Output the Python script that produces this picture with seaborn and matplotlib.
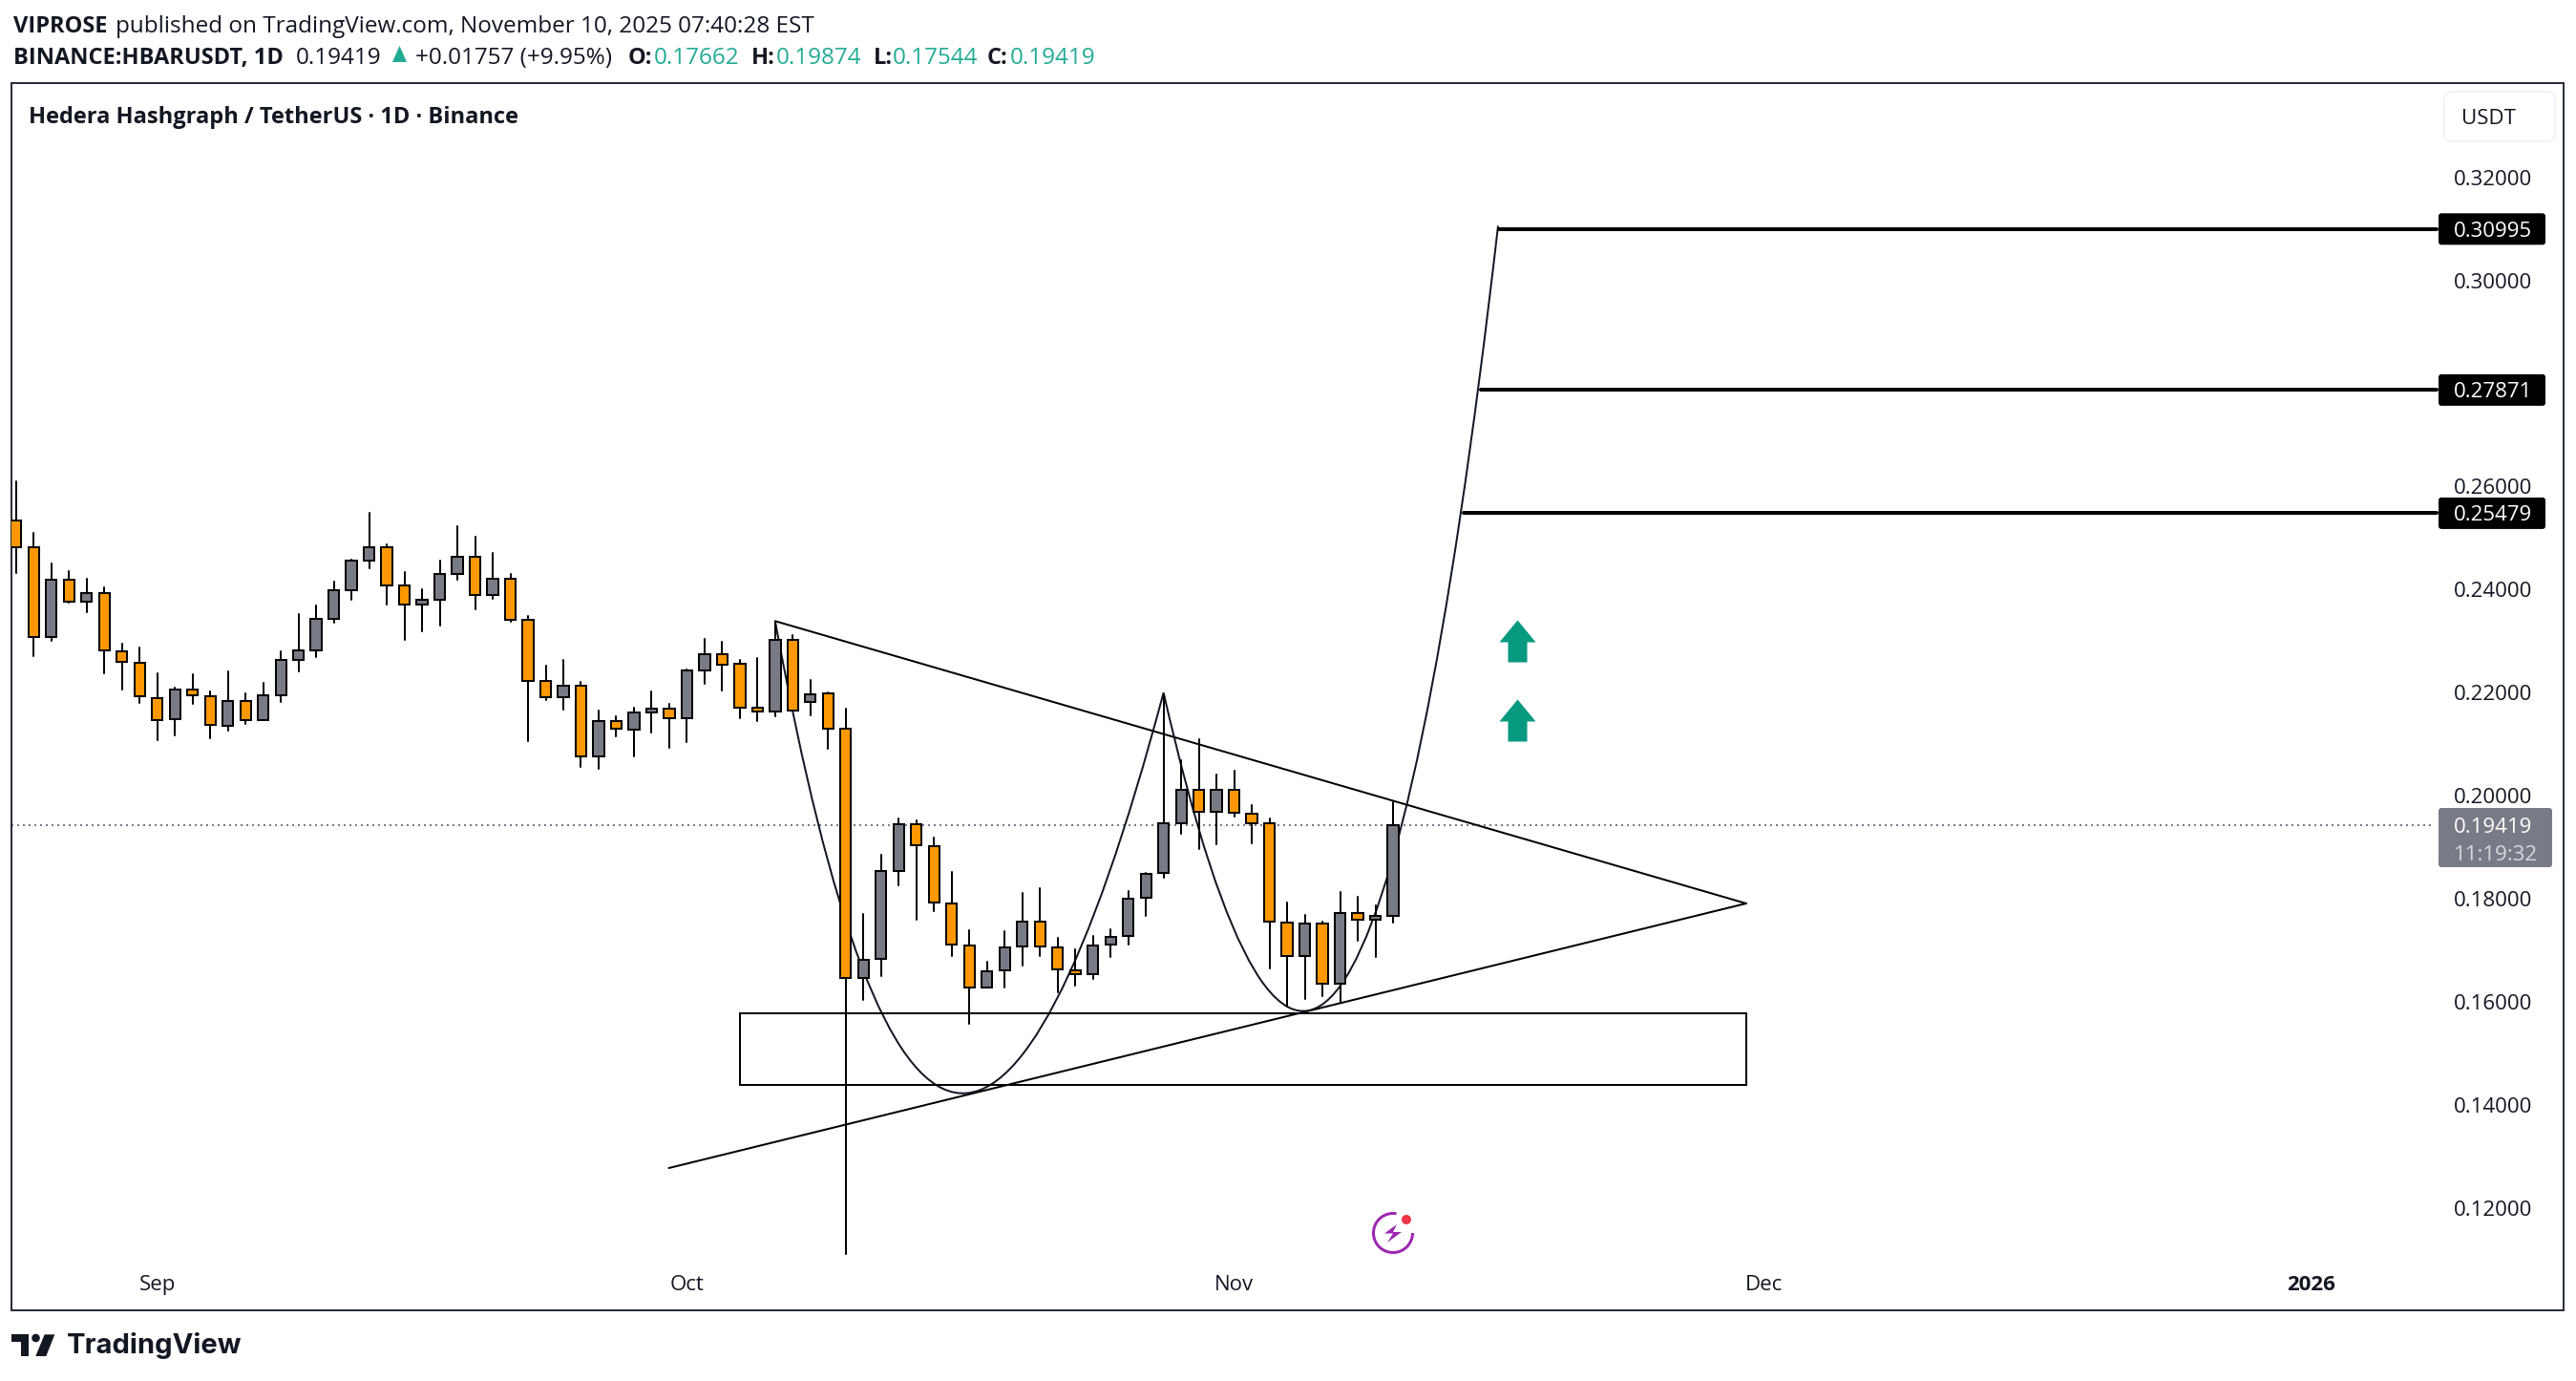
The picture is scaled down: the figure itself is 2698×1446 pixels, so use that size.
import numpy as np
import pandas as pd
import matplotlib.pyplot as plt
from matplotlib.patches import PathPatch, Rectangle, Polygon, Circle, Arc, FancyBboxPatch
from matplotlib.path import Path
import seaborn as sns

# daily candles, 2025-08-24 to 2025-11-10
first_day = '2025-08-24'
opens = [.25339, .24820, .23084, .24190, .23769, .23930, .22799, .22577, .21891, .21490,
         .22058, .21928, .21360, .21836, .21471, .21953, .22639, .22824, .23436, .23992,
         .24566, .24820, .24078, .23714, .23807, .24307, .24634, .23899, .24208, .23411,
         .22225, .21916, .22132, .20767, .21446, .21286, .21613, .21687, .21508, .22435,
         .22744, .22558, .21706, .21638, .23022, .21823, .21984, .21298, .16454, .16825,
         .18542, .19444, .19018, .17900, .17090, .16269, .16602, .17066, .17554, .17053,
         .16608, .16528, .17103, .17269, .18011, .18493, .19469, .20112, .19679, .20112,
         .19642, .19457, .17535, .16880, .17517, .16343, .17721, .17585, .17662]
highs = [.26093, .25104, .24511, .24363, .24214, .24047, .22954, .22880, .22379, .22089,
         .22361, .22027, .22416, .21990, .22194, .22806, .23516, .23695, .24159, .24585,
         .25493, .24869, .24344, .24010, .24566, .25234, .25030, .24715, .24307, .23491,
         .22528, .22639, .22212, .21656, .21545, .21712, .22027, .21786, .22453, .23047,
         .22991, .22639, .22676, .23374, .23121, .22250, .22009, .21693, .17708, .18857,
         .19562, .19525, .19191, .18524, .17393, .16781, .17375, .18116, .18209, .17245,
         .17022, .17282, .17412, .18153, .18505, .21953, .20692, .21100, .20414, .20488,
         .19821, .19562, .17931, .17690, .17560, .18134, .18042, .17875, .19874]
lows = [.24319, .22707, .23003, .23745, .23559, .22373, .22058, .21798, .21076, .21168,
        .21780, .21113, .21261, .21391, .21471, .21817, .22410, .22688, .23355, .23800,
        .24412, .23708, .23022, .23189, .23300, .24190, .23615, .23819, .23374, .21057,
        .21854, .21669, .20557, .20519, .21150, .20760, .21224, .20927, .21039, .22169,
        .22039, .21502, .21446, .21539, .21644, .21551, .20903, .11097, .16028, .16497,
        .18258, .17591, .17758, .16886, .15571, .16269, .16275, .16701, .16886, .16176,
        .16312, .16441, .16868, .17109, .17665, .18406, .19259, .18962, .19055, .19593,
        .19074, .16645, .15898, .16052, .16108, .15978, .17183, .16868, .17544]
closes = [.24826, .23084, .24190, .23769, .23930, .22812, .22589, .21922, .21471, .22058,
          .21941, .21366, .21836, .21471, .21947, .22633, .22818, .23430, .23986, .24560,
          .24820, .24085, .23714, .23800, .24301, .24634, .23899, .24208, .23417, .22231,
          .21916, .22132, .20767, .21446, .21292, .21613, .21693, .21508, .22429, .22744,
          .22546, .21712, .21638, .23022, .21644, .21965, .21304, .16454, .16806, .18536,
          .19444, .19030, .17918, .17103, .16269, .16590, .17053, .17554, .17066, .16621,
          .16528, .17084, .17251, .17999, .18480, .19457, .20112, .19679, .20112, .19661,
          .19469, .17547, .16880, .17517, .16343, .17721, .17585, .17665, .19419]

# axis ticks
date_ticks = ['2025-09-01', '2025-10-01', '2025-11-01', '2025-12-01', '2026-01-01']
date_labels = ['Sep', 'Oct', 'Nov', 'Dec', '2026']
price_ticks = [.12, .14, .16, .18, .20, .22, .24, .26, .30, .32]

# drawings on the chart, (candle number, price)
upper_trend_x = [43, 98]
upper_trend_y = [.23386, .17906]
lower_trend_x = [36.98, 98]
lower_trend_y = [.12771, .17906]
zone_x = [41, 98]
zone_y = [.14384, .15774]
arc1_x = [43, 52.36, 65]
arc1_y = [.23386, .05778, .21996]
arc2_x = [65, 75.6, 83.95]
arc2_y = [.21996, .06111, .31059]
target_starts = [84, 83, 82]
target_prices = [.30995, .27871, .25479]
last_price = .19419
arrow_x = [85.03, 85.03]
arrow_y = [.22997, .21459]

W, H = 2698, 1446
LEFT, RIGHT, TOP, BOTTOM = 12, 2685, 87, 1372
FIRST_X, STEP = 16.8, 18.49
ZERO_Y, PER_UNIT = 833.0, 5395.0

DARK = '#131722'
FRAME = '#2a2e39'
GRAY = '#787b86'
ORANGE = '#ff9800'
TEAL = '#22ab94'
PX = 0.72  # points per pixel at dpi 100

sns.set_style('white')
plt.rcParams['font.family'] = ['Open Sans', 'DejaVu Sans']

fig = plt.figure(figsize=(W / 100, H / 100), dpi=100, facecolor='white')
ax = fig.add_axes([LEFT / W, 1 - BOTTOM / H, (RIGHT - LEFT) / W, (BOTTOM - TOP) / H])
ax.set_xlim((LEFT - FIRST_X) / STEP, (RIGHT - FIRST_X) / STEP)
ax.set_ylim(.2 - (BOTTOM - ZERO_Y) / PER_UNIT, .2 + (ZERO_Y - TOP) / PER_UNIT)

idx = np.arange(len(opens))
df = pd.DataFrame({'candle': idx, 'open': opens, 'high': highs, 'low': lows, 'close': closes})
df['up'] = df['close'] > df['open']
df['top'] = df[['open', 'close']].max(axis=1)
df['bottom'] = df[['open', 'close']].min(axis=1)

line_right = (2552 - FIRST_X) / STEP
dot_right = (2548 - FIRST_X) / STEP
xmin = ax.get_xlim()[0]

# last price
sns.lineplot(x=[xmin, dot_right], y=[last_price, last_price], ax=ax, color=GRAY,
             linewidth=2 * PX, linestyle=(0, (1, 2)), zorder=1, legend=False)

# drawings
for xs, ys in [(upper_trend_x, upper_trend_y), (lower_trend_x, lower_trend_y)]:
    sns.lineplot(x=xs, y=ys, ax=ax, color='black', linewidth=2 * PX, zorder=2, legend=False)
for xs, ys in [(arc1_x, arc1_y), (arc2_x, arc2_y)]:
    curve = Path(list(zip(xs, ys)), [Path.MOVETO, Path.CURVE3, Path.CURVE3])
    ax.add_patch(PathPatch(curve, fill=False, edgecolor=DARK, linewidth=2 * PX, zorder=2))
ax.add_patch(Rectangle((zone_x[0], zone_y[0]), zone_x[1] - zone_x[0], zone_y[1] - zone_y[0],
                       fill=False, edgecolor='black', linewidth=2 * PX, zorder=2))
for start, price in zip(target_starts, target_prices):
    sns.lineplot(x=[start, line_right], y=[price, price], ax=ax, color='black',
                 linewidth=4 * PX, zorder=2, legend=False)

# candles
wicks = df.melt(id_vars='candle', value_vars=['high', 'low'], value_name='price')
sns.lineplot(data=wicks, x='candle', y='price', units='candle', estimator=None, ax=ax,
             color='black', linewidth=2 * PX, zorder=3, legend=False)
ax.bar(df['candle'], df['top'] - df['bottom'], bottom=df['bottom'], width=0.61,
       color=[GRAY if u else ORANGE for u in df['up']], edgecolor='black',
       linewidth=2 * PX, zorder=4)

# up arrows
arrow = Path([(0, 1), (.864, -.045), (.455, -.045), (.455, -1), (-.455, -1),
              (-.455, -.045), (-.864, -.045), (0, 1)], closed=True)
sns.scatterplot(x=arrow_x, y=arrow_y, ax=ax, marker=arrow, s=1005, color='#089981',
                linewidth=0, zorder=5, legend=False)

# axes
ax.set_xlabel('')
ax.set_ylabel('')
for side in ax.spines.values():
    side.set_color(FRAME)
    side.set_linewidth(2 * PX)
start = pd.Timestamp(first_day)
ax.set_xticks([(pd.Timestamp(d) - start).days for d in date_ticks])
ax.set_xticklabels(date_labels)
ax.tick_params(axis='x', length=0, pad=-37 * PX, labelsize=16, labelcolor=DARK)
ax.get_xticklabels()[-1].set_fontweight('bold')
ax.yaxis.tick_right()
ax.set_yticks(price_ticks)
ax.set_yticklabels([f'{p:.5f}' for p in price_ticks])
ax.tick_params(axis='y', length=0, pad=-115 * PX, labelsize=16, labelcolor=DARK)
for lab in ax.get_yticklabels():
    lab.set_ha('left')

# overlay in pixels for the header, price tags and logo
ov = fig.add_axes([0, 0, 1, 1], facecolor='none')
ov.set_xlim(0, W)
ov.set_ylim(H, 0)
ov.axis('off')


def label(x, y, s, size=16, color=DARK, weight='normal', ha='left'):
    ov.text(x, y, s, fontsize=size, color=color, fontweight=weight, ha=ha, va='center_baseline')


label(14, 25, 'VIPROSE', size=17, weight='bold')
label(121, 25, 'published on TradingView.com, November 10, 2025 07:40:28 EST', size=17.5)
label(14, 58, 'BINANCE:HBARUSDT, 1D', size=17, weight='bold')
label(310, 58, '0.19419', size=17.5)
ov.add_patch(Polygon([(411, 65), (426, 65), (418.5, 48)], color=TEAL, lw=0))
label(435, 58, '+0.01757 (+9.95%)', size=17.5)
label(658, 58, 'O:', size=17, weight='bold')
label(685, 58, '0.17662', size=17.5, color=TEAL)
label(787, 58, 'H:', size=17, weight='bold')
label(813, 58, '0.19874', size=17.5, color=TEAL)
label(915, 58, 'L:', size=17, weight='bold')
label(935, 58, '0.17544', size=17.5, color=TEAL)
label(1034, 58, 'C:', size=17, weight='bold')
label(1058, 58, '0.19419', size=17.5, color=TEAL)
label(30, 120, 'Hedera Hashgraph / TetherUS · 1D · Binance', size=17, weight='bold')

# USDT button
ov.add_patch(FancyBboxPatch((2566, 102), 104, 40, boxstyle='round,pad=6,rounding_size=8',
                            facecolor='white', edgecolor='#f0f3fa', linewidth=1.5))
label(2578, 122, 'USDT')

# price tags
for price in target_prices:
    y = ZERO_Y - (price - .2) * PER_UNIT
    ov.add_patch(FancyBboxPatch((2554, y - 16.5), 112, 33, boxstyle='round,pad=0,rounding_size=3',
                                facecolor='black', edgecolor='none'))
    label(2570, y, f'{price:.5f}', color='white')
ov.add_patch(FancyBboxPatch((2554, 846), 119, 62, boxstyle='round,pad=0,rounding_size=3',
                            facecolor=GRAY, edgecolor='none'))
label(2570, 864, f'{last_price:.5f}', color='white')
label(2570, 893, '11:19:32', color='#d6d8de')

# flash icon
purple = '#9c27b0'
ov.add_patch(Arc((1459, 1291), 41, 41, theta1=0, theta2=280, color=purple, lw=3 * PX))
ov.add_patch(Polygon([(1463, 1282), (1450, 1291.5), (1459, 1291.5), (1453, 1301),
                      (1468, 1290), (1459, 1290)], color=purple, lw=0))
ov.add_patch(Circle((1473, 1277), 5, color='#f23645', lw=0))

# logo
ov.add_patch(Polygon([(12, 1397.3), (30, 1397.3), (30, 1420), (22, 1420), (22, 1405), (12, 1405)],
                     color=DARK, lw=0))
ov.add_patch(Circle((37.5, 1401), 4.3, color=DARK, lw=0))
ov.add_patch(Polygon([(46.7, 1397.3), (57.3, 1397.3), (48.3, 1420), (37.3, 1420)], color=DARK, lw=0))
ov.text(70, 1409, 'TradingView', fontsize=21, color=DARK, fontweight='bold', family='Inter',
        ha='left', va='center')

fig.savefig('out.png', dpi=100)
